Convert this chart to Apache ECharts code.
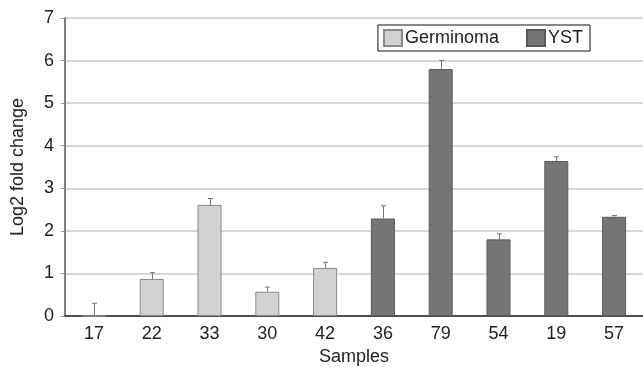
<!DOCTYPE html>
<html><head><meta charset="utf-8">
<script src="https://cdn.jsdelivr.net/npm/echarts@6/dist/echarts.min.js"></script>
<style>html,body{margin:0;padding:0;background:#fff}#c{width:643px;height:367px}</style>
</head><body><div id="c"></div>
<script>
var categories = ['17','22','33','30','42','36','79','54','19','57'];
var groups = ['G','G','G','G','G','Y','Y','Y','Y','Y'];
var values = [0, 0.87, 2.61, 0.57, 1.13, 2.29, 5.80, 1.80, 3.64, 2.33];
var errTops = [0.30, 1.02, 2.76, 0.68, 1.26, 2.59, 6.00, 1.93, 3.74, 2.36];
var yTicks = [0,1,2,3,4,5,6,7];

var germ = values.map(function(v,i){return groups[i]==='G'?v:null;});
var yst = values.map(function(v,i){return groups[i]==='Y'?v:null;});
var errData = values.map(function(v,i){return [i, v, errTops[i]];});

var chart = echarts.init(document.getElementById('c'));
chart.setOption({
  animation:false,
  textStyle:{fontFamily:'Liberation Sans, Arial, sans-serif'},
  grid:{left:65,right:0,top:18,bottom:51,outerBoundsMode:'none',containLabel:false},
  legend:{
    right:53, top:25, itemGap:27, itemWidth:18, itemHeight:16,
    borderColor:'#111', borderWidth:1, padding:[4,7,4,5],
    textStyle:{fontSize:18,color:'#222', padding:[0,0,0,-2]},
    data:[{name:'Germinoma',icon:'rect'},{name:'YST',icon:'rect'}]
  },
  xAxis:{
    type:'category', data:categories, name:'Samples', nameLocation:'middle', nameGap:31,
    nameTextStyle:{fontSize:18,color:'#222'},
    axisLine:{lineStyle:{color:'#222',width:1.5}}, axisTick:{show:false},
    axisLabel:{fontSize:18,color:'#222',margin:9}
  },
  yAxis:{
    type:'value', min:0, max:7, interval:1, name:'Log2 fold change', nameLocation:'middle', nameGap:38,
    nameTextStyle:{fontSize:18,color:'#222'},
    axisLine:{show:true,lineStyle:{color:'#555',width:1.5}},
    axisTick:{show:true,length:4,lineStyle:{color:'#999'}},
    axisLabel:{fontSize:18,color:'#222',margin:11,formatter:function(v){return yTicks.indexOf(v)>=0?String(v):'';}},
    splitLine:{lineStyle:{color:'#d8d8d8',width:2}}
  },
  series:[
    {name:'Germinoma',type:'bar',data:germ,barWidth:24,barGap:'-100%',
     itemStyle:{color:'#d2d2d2',borderColor:'#8a8a8a',borderWidth:1}},
    {name:'YST',type:'bar',data:yst,barWidth:24,
     itemStyle:{color:'#757575',borderColor:'#5a5a5a',borderWidth:1}},
    {type:'custom',data:errData,z:10,
     renderItem:function(params,api){
       var x=api.value(0);
       var p0=api.coord([x,api.value(1)]);
       var p1=api.coord([x,api.value(2)]);
       var cx=Math.round(p0[0])+0.5;
       return {type:'group',children:[
         {type:'line',shape:{x1:cx,y1:p0[1],x2:cx,y2:p1[1]},style:{stroke:'#777',lineWidth:1}},
         {type:'line',shape:{x1:cx-2.5,y1:p1[1],x2:cx+2.5,y2:p1[1]},style:{stroke:'#777',lineWidth:1}}
       ]};
     }}
  ]
});
</script></body></html>
